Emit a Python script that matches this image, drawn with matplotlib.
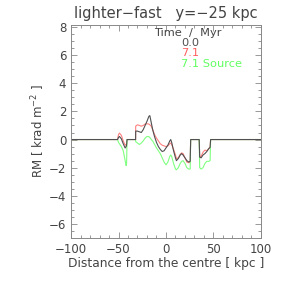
import numpy as np
from matplotlib import pyplot as plt
from matplotlib.ticker import MultipleLocator

# distance along the cut (kpc), steps written as repeated points
x = [-100, -51, -50, -49, -47, -45, -43, -42, -41.5, -41, -32, -31.9, -30, -28,
     -26, -24, -22, -20, -18, -17, -15.5, -14, -12, -10, -8, -6, -4, -2, 0, 2,
     4, 5, 6, 8, 10, 11, 13, 15, 16.5, 18, 20, 22, 24, 25.5, 26, 35, 35.5, 37,
     39, 41, 43, 45, 46.5, 47, 100]

rm_t0 = [0, 0, 0.15, 0.22, 0.05, -0.3, -0.6, -0.5, -0.4, 0, 0, 0.6, 0.6, 0.55,
         0.5, 0.7, 1.0, 1.3, 1.65, 1.7, 1.2, 0.7, 0.2, -0.2, -0.5, -0.7, -0.85, -0.8, -0.6, -0.4,
         -0.1, 0.0, -0.2, -0.8, -1.3, -1.5, -1.35, -1.1, -1.0, -1.1, -1.3, -1.5, -1.6, -1.55, 0, 0, -1.25, -1.3,
         -1.1, -1.0, -0.85, -0.65, -0.55, 0, 0]

rm_t71 = [0, 0, 0.35, 0.46, 0.3, -0.1, -0.4, -0.35, -0.3, 0, 0, 0.95, 1.05, 1.0,
          0.95, 1.0, 1.1, 1.12, 1.1, 1.05, 0.95, 0.7, 0.35, 0.1, -0.1, -0.3, -0.4, -0.45, -0.5, -0.45,
          -0.3, -0.25, -0.35, -0.7, -1.1, -1.35, -1.3, -1.05, -0.95, -1.0, -1.3, -1.6, -1.65, -1.6, 0, 0, -1.2, -1.2,
          -0.9, -0.75, -0.8, -0.65, -0.55, 0, 0]

rm_src = [0, 0, -0.2, -0.3, -0.5, -0.8, -1.5, -1.85, -1.7, 0, 0, -0.15, -0.25, -0.35,
          -0.25, -0.1, 0.1, 0.22, 0.2, 0.15, 0.0, -0.1, -0.35, -0.6, -0.8, -1.0, -1.3, -1.6, -1.8, -1.6,
          -1.2, -1.1, -1.2, -1.7, -2.1, -2.15, -2.0, -1.7, -1.55, -1.5, -1.7, -2.0, -2.1, -2.1, 0, 0, -2.0, -2.1,
          -2.0, -1.7, -1.55, -1.55, -1.5, 0, 0]

fig = plt.figure(figsize=(2.83, 2.83), dpi=100)
ax = fig.add_axes([0.251, 0.159, 0.671, 0.753])

ax.plot(x, rm_t71, color="#ff8080", linewidth=0.8)
ax.plot(x, rm_src, color="#80ff80", linewidth=0.8)
ax.plot(x, rm_t0, color="#505050", linewidth=0.8)

ax.set_xlim(-100, 100)
ax.set_ylim(-7, 8.15)
ax.xaxis.set_major_locator(MultipleLocator(50))
ax.xaxis.set_minor_locator(MultipleLocator(10))
ax.yaxis.set_major_locator(MultipleLocator(2))
ax.yaxis.set_minor_locator(MultipleLocator(0.5))
ax.tick_params(which="both", direction="in", top=True, right=True, color="#888888",
               labelcolor="#444444", labelsize=8.5, width=0.6)
ax.tick_params(which="major", length=4)
ax.tick_params(which="minor", length=2)
for s in ax.spines.values():
    s.set_color("#888888")
    s.set_linewidth(0.7)

ax.set_title("lighter\u2212fast   y=\u221225 kpc", fontsize=10.5, color="#444444", pad=5)
ax.set_xlabel("Distance from the centre [ kpc ]", fontsize=8.8, color="#444444", labelpad=1)
ax.set_ylabel("RM [ krad m$^{-2}$ ]", fontsize=8.5, color="#444444", labelpad=1)

ax.text(0.795, 0.985, "Time  /  Myr", transform=ax.transAxes, fontsize=8.2, color="#444444",
        ha="right", va="top")
ax.text(0.58, 0.94, "0.0", transform=ax.transAxes, fontsize=8.2, color="#505050", va="top")
ax.text(0.58, 0.89, "7.1", transform=ax.transAxes, fontsize=8.2, color="#ff6060", va="top")
ax.text(0.58, 0.84, "7.1 Source", transform=ax.transAxes, fontsize=8.2, color="#60ff60", va="top")

fig.savefig("out.png", dpi=100)
